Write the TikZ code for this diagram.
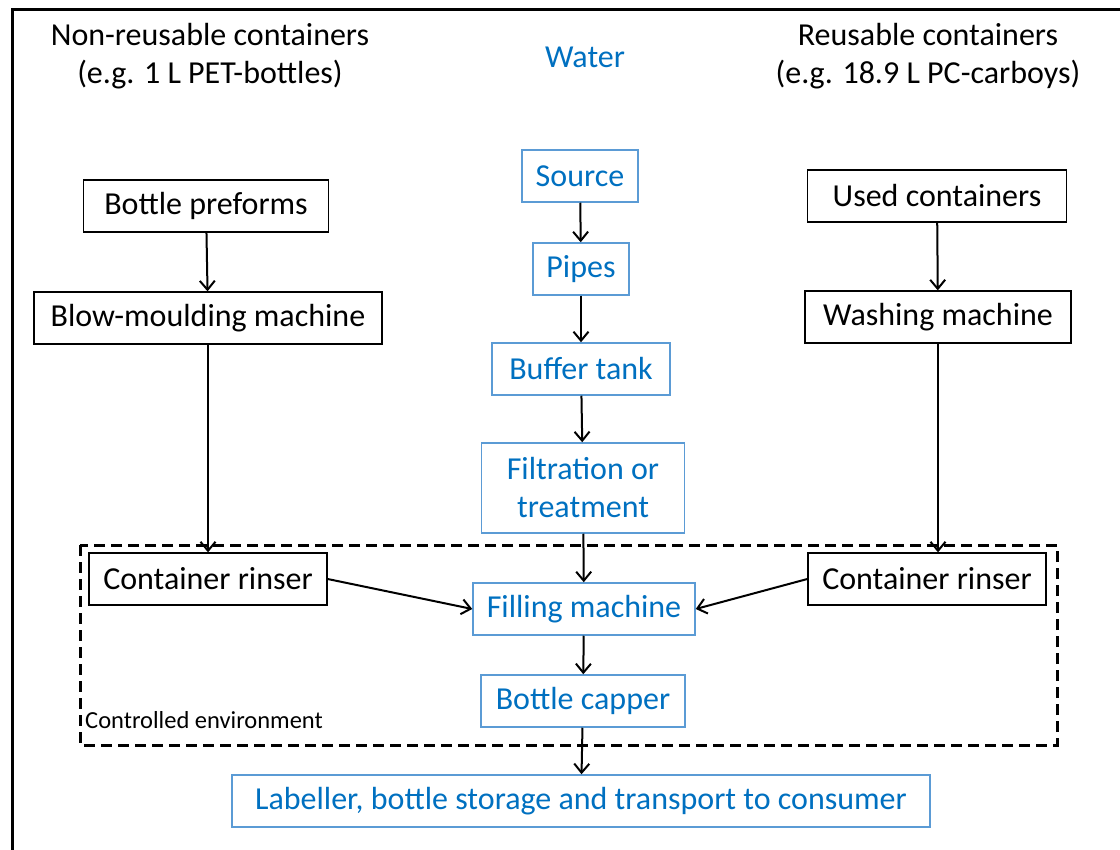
\documentclass[tikz,border=0pt]{standalone}
\usepackage{fontspec}
\setmainfont{Carlito}
\usetikzlibrary{arrows.meta}
\definecolor{txtblue}{RGB}{0,112,192}
\definecolor{boxblue}{RGB}{91,155,213}
\begin{document}
\begin{tikzpicture}[x=1pt,y=-1pt,
 every node/.style={font=\fontsize{32}{38}\selectfont},
 bbox/.style={draw=black, line width=1.3pt, inner sep=0pt, minimum height=52pt},
 wbox/.style={draw=boxblue, line width=1.5pt, text=txtblue, inner sep=0pt, minimum height=52pt},
 arr/.style={line width=2pt, -{Straight Barb[length=9pt,width=15pt]}},
 envline/.style={line width=3pt, dash pattern=on 11pt off 6pt},
 frame/.style={line width=3pt},
]
\useasboundingbox (0,0) rectangle (1120,850);
\draw[frame] (12,850) -- (12,10) -- (1120,10);

\node[align=center] (tl) at (210,56) {Non-reusable containers\\(e.g. 1 L PET-bottles)};
\node[text=txtblue] (water) at (585,57) {Water};
\node[align=center] (tr) at (928,56) {Reusable containers\\(e.g. 18.9 L PC-carboys)};

\draw[envline] (80,545) rectangle (1057,745);
\node[anchor=base west, inner sep=0pt, font=\fontsize{24.5}{28}\selectfont] (envlbl) at (85,728) {Controlled environment};

\node[bbox, minimum width=245pt] (pre) at (206,206) {Bottle preforms};
\node[bbox, minimum width=348pt] (blow) at (208,318) {Blow-moulding machine};
\node[bbox, minimum width=238pt] (rinL) at (208,579) {Container rinser};

\node[wbox, minimum width=116pt] (src) at (580,176) {Source};
\node[wbox, minimum width=96pt] (pipes) at (581,269) {Pipes};
\node[wbox, minimum width=178pt] (buf) at (581,369) {Buffer tank};
\node[wbox, minimum width=203pt, minimum height=90pt, align=center] (filt) at (583,488) {Filtration or\\treatment};
\node[wbox, minimum width=222pt] (fill) at (584,609) {Filling machine};
\node[wbox, minimum width=204pt] (cap) at (583,701) {Bottle capper};
\node[wbox, minimum width=698pt] (lab) at (581,801) {Labeller, bottle storage and transport to consumer};

\node[bbox, minimum width=259pt] (used) at (937,196) {Used containers};
\node[bbox, minimum width=266pt] (wash) at (938,317) {Washing machine};
\node[bbox, minimum width=238pt] (rinR) at (927,579) {Container rinser};

\draw[arr] (pre) -- (blow);
\draw[arr] (blow) -- (rinL);
\draw[arr] (used) -- (wash);
\draw[arr] (wash.south) -- (wash.south |- rinR.north);
\draw[arr] (src) -- (pipes);
\draw[arr] (pipes) -- (buf);
\draw[arr] (buf) -- (filt);
\draw[arr] (filt) -- (fill);
\draw[arr] (fill) -- (cap);
\draw[arr] (cap) -- (lab);
\draw[arr] (rinL.east) -- (fill.west);
\draw[arr] (rinR.west) -- (fill.east);
\end{tikzpicture}
\end{document}
